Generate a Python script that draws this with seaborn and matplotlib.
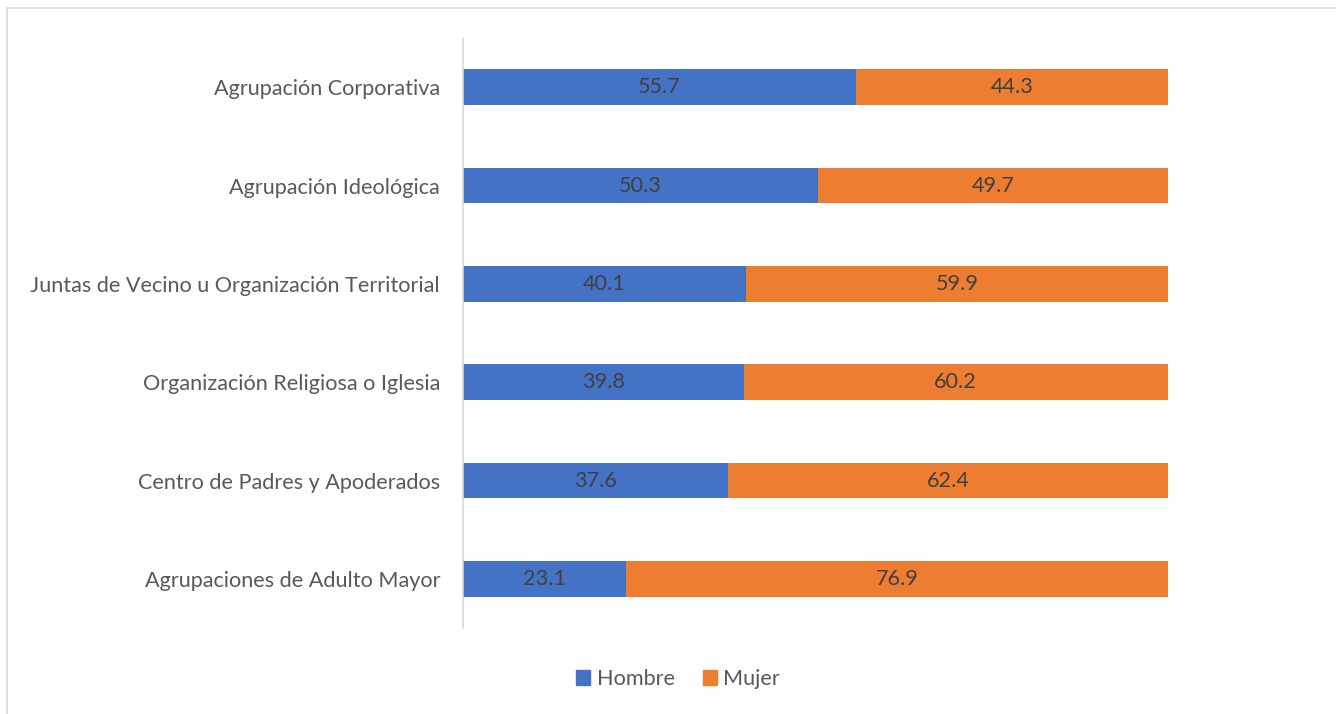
import numpy as np
import pandas as pd
import seaborn as sns
import matplotlib.pyplot as plt
from matplotlib.patches import Rectangle, Patch

# data (percent of members by sex)
categorias = ['Agrupación Corporativa', 'Agrupación Ideológica',
              'Juntas de Vecino u Organización Territorial',
              'Organización Religiosa o Iglesia', 'Centro de Padres y Apoderados',
              'Agrupaciones de Adulto Mayor']
hombre = [55.7, 50.3, 40.1, 39.8, 37.6, 23.1]
mujer = [44.3, 49.7, 59.9, 60.2, 62.4, 76.9]

azul = '#4472C4'
naranjo = '#ED7D31'
fs = 15.6

sns.set_theme(style='white')
plt.rcParams['font.family'] = ['Lato', 'DejaVu Sans']

fig = plt.figure(figsize=(13.36, 7.14), dpi=100)
ax = fig.add_axes([463 / 1336, 1 - 628 / 714, (1168 - 463) / 1336, (628 - 38) / 714])

df = pd.DataFrame({'cat': categorias, 'Hombre': hombre, 'Mujer': mujer})

sns.barplot(data=df, x='Hombre', y='cat', color=azul, saturation=1, width=0.36,
            orient='h', ax=ax, linewidth=0)
pos = np.arange(len(categorias))
ax.barh(pos, df['Mujer'], left=df['Hombre'], height=0.36, color=naranjo, linewidth=0)

# data labels centred in each segment
ax.bar_label(ax.containers[0], labels=[f'{v:.1f}' for v in hombre],
             label_type='center', fontsize=fs, color='#404040')
ax.bar_label(ax.containers[1], labels=[f'{v:.1f}' for v in mujer],
             label_type='center', fontsize=fs, color='#404040')

ax.set_xlim(0, 100)
ax.set_ylim(len(categorias) - 0.5, -0.5)
ax.set_xlabel('')
ax.set_ylabel('')
ax.set_xticks([])
ax.tick_params(axis='y', length=0, pad=16.5, labelsize=fs, labelcolor='#595959')
for s in ['top', 'right', 'bottom']:
    ax.spines[s].set_visible(False)
ax.spines['left'].set_color('#D9D9D9')
ax.spines['left'].set_linewidth(1.2)

handles = [Patch(color=azul, label='Hombre'), Patch(color=naranjo, label='Mujer')]
leg = fig.legend(handles=handles, loc='center', bbox_to_anchor=(678 / 1336, 1 - 679 / 714),
                 ncol=2, frameon=False, fontsize=fs, handlelength=0.65, handleheight=0.65,
                 handletextpad=0.3, columnspacing=1.3)
for t in leg.get_texts():
    t.set_color('#595959')

# light chart border
fig.patches.append(Rectangle((7 / 1336, -0.05), 1.1, 1 - 8 / 714 + 0.05,
                             transform=fig.transFigure, fill=False,
                             edgecolor='#D9D9D9', linewidth=1.2))

fig.savefig('out.png', dpi=100)
